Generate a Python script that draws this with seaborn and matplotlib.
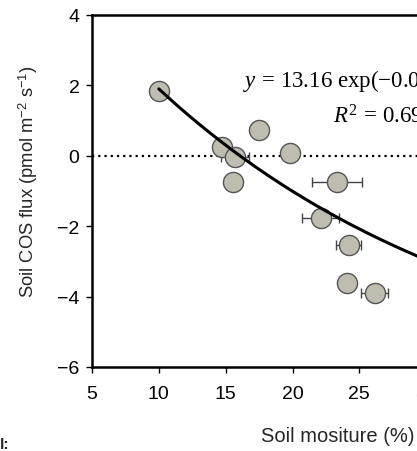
import numpy as np
import pandas as pd
import matplotlib
matplotlib.use("Agg")
import matplotlib.pyplot as plt
import seaborn as sns

# Data
soil_moisture = [10.0, 14.7, 15.7, 15.55, 17.5, 19.8, 23.3, 22.1, 24.2, 24.05, 26.15]
cos_flux = [1.84, 0.24, -0.04, -0.75, 0.74, 0.07, -0.75, -1.78, -2.53, -3.62, -3.90]
moisture_err = [0.0, 0.0, 1.05, 0.0, 0.0, 0.0, 1.87, 1.4, 0.96, 0.0, 1.0]

# Fitted curve parameters (y = a*exp(-b*x) + c)
fit_a, fit_b, fit_c = 13.16, 0.040, -6.92
fit_x = np.linspace(10, 35, 200)
fit_y = fit_a * np.exp(-fit_b * fit_x) + fit_c

x_ticks = [5, 10, 15, 20, 25, 30, 35]
y_ticks = [-6, -4, -2, 0, 2, 4]

sns.set_theme(style="ticks")
plt.rcParams['font.family'] = ['Liberation Sans', 'DejaVu Sans']
plt.rcParams['mathtext.fontset'] = 'custom'
plt.rcParams['mathtext.rm'] = 'Liberation Serif'
plt.rcParams['mathtext.it'] = 'Liberation Serif:italic'

df = pd.DataFrame({"x": soil_moisture, "y": cos_flux, "xerr": moisture_err})

fig = plt.figure(figsize=(4.17, 4.52), dpi=100)
ax = fig.add_axes([92/417, 84/452, 401/417, 352/452])

ax.axhline(0, color="black", linestyle=(0, (1, 1.8)), linewidth=1.6, zorder=1)

has_err = df[df.xerr > 0]
ax.errorbar(has_err.x, has_err.y, xerr=has_err.xerr, fmt="none", ecolor="#444444",
            elinewidth=1.0, capsize=3.5, capthick=1.0, zorder=2)

sns.scatterplot(data=df, x="x", y="y", ax=ax, s=210, color="#bebdb0",
                edgecolor="#555555", linewidth=1.0, zorder=3, legend=False)

sns.lineplot(x=fit_x, y=fit_y, ax=ax, color="black", linewidth=2.2, zorder=4)

ax.set_xlim(5, 35)
ax.set_ylim(-6, 4)
ax.set_xticks(x_ticks)
ax.set_yticks(y_ticks)

for side in ["left", "bottom", "top"]:
    ax.spines[side].set_linewidth(1.8)
    ax.spines[side].set_color("black")
ax.spines["right"].set_visible(False)

ax.tick_params(axis="both", direction="out", length=4, width=1.0, colors="black",
               labelsize=14)
ax.tick_params(axis="x", pad=9)
ax.tick_params(axis="y", pad=5)

ax.set_xlabel("Soil mositure (%)", fontsize=14.5)
ax.xaxis.set_label_coords((338-92)/401, (368-427)/352)
ax.set_ylabel(r"Soil COS flux (pmol m$^{\mathregular{-2}}$ s$^{\mathregular{-1}}$)", fontsize=13.2)
ax.yaxis.set_label_coords((40-92)/401, 0.528)

ax.text(16.3, 1.98, r"$y\,=\,\mathrm{13.16\,\,exp(-0.040}x\mathrm{) - 6.92}$",
        fontsize=16.5, color="black", va="baseline", ha="left")
ax.text(23.05, 0.95, r"$R^{2}\,=\,\mathrm{0.69}$",
        fontsize=16.5, color="black", va="baseline", ha="left")

fig.text(0.0, 3, "l:", fontsize=11, fontweight="bold", transform=None)

fig.savefig("out.png", dpi=100)
